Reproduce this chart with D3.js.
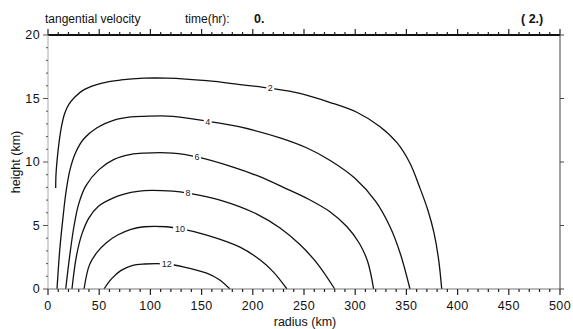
<!DOCTYPE html>
<html>
<head>
<meta charset="utf-8">
<script src="https://cdn.jsdelivr.net/npm/d3@7"></script>
<style>
  body { margin: 0; background: #fff; }
  text { font-family: "Liberation Sans", Arial, sans-serif; }
</style>
</head>
<body>
<script>
// contour levels of tangential velocity
var levels = [2, 4, 6, 8, 10, 12];

// contour points, [radius km, height km]
var c2 = [[7.5,7.95],[7.8,9.0],[9.2,10.4],[10.9,11.6],[13.2,12.8],[16.2,13.8],[20.5,14.55],[26,15.1],[35.2,15.7],[51.8,16.2],[71.3,16.46],[93.8,16.6],[116,16.6],[155,16.4],[187.5,16.1],[217,15.8],[246,15.4],[275,14.7],[302,13.9],[324,12.8],[341,11.5],[353.5,9.9],[363,8.0],[371,6.2],[377,4.4],[381.5,2.3],[384.5,0]];
var c4 = [[8.8,0],[11.5,3.1],[14.6,5.6],[17.5,7.6],[21.5,9.4],[27,10.75],[35.2,11.85],[47.9,12.7],[64.5,13.3],[81,13.55],[93.8,13.6],[122,13.6],[156,13.2],[187.5,12.76],[226.6,11.9],[253,11.1],[276,10.1],[300,8.7],[320,6.9],[334,4.9],[344,2.8],[353.5,0]];
var c6 = [[17.3,0],[21.5,2.8],[25.5,5.0],[30,6.7],[36.8,8.1],[49.8,9.4],[64.5,10.2],[81,10.6],[93.8,10.7],[122,10.7],[145.5,10.4],[180.7,9.6],[205,8.9],[230,8.0],[255,7.05],[275,6.1],[292,4.9],[304,3.6],[312,2.2],[318,0]];
var c8 = [[23.4,0],[27.8,2.6],[33,4.3],[40,5.6],[49,6.5],[64.5,7.2],[81,7.6],[93.8,7.75],[122,7.7],[136.7,7.55],[168,7.0],[204,5.9],[226.6,4.8],[246,3.5],[263,2.0],[280,0]];
var c10 = [[35.2,0],[40.5,1.9],[48,2.9],[57,3.65],[68,4.25],[81,4.7],[93.8,4.9],[116,4.9],[129,4.75],[155,4.25],[187.5,3.3],[207,2.3],[220,1.35],[233.4,0]];
var c12 = [[54.7,0],[62,0.8],[71,1.45],[82,1.85],[93.8,1.97],[116,1.97],[132,1.75],[155,1.25],[167,0.75],[177.7,0]];
var contours = [c2, c4, c6, c8, c10, c12];

// where the level labels sit, [radius, height]
var labelPos = [[217,15.8],[156,13.2],[145.5,10.4],[136.7,7.55],[129,4.75],[116,1.97]];

var xTicks = [0, 50, 100, 150, 200, 250, 300, 350, 400, 450, 500];
var yTicks = [0, 5, 10, 15, 20];

var W = 573, H = 329;
var svg = d3.select("body").append("svg")
    .attr("width", W)
    .attr("height", H);

var x = d3.scaleLinear().domain([0, 500]).range([48, 560]);
var y = d3.scaleLinear().domain([0, 20]).range([289, 35]);

// contours
var line = d3.line()
    .x(function(d){ return x(d[0]); })
    .y(function(d){ return y(d[1]); })
    .curve(d3.curveCatmullRom.alpha(0.5));

svg.selectAll("path.cont")
    .data(contours)
    .enter().append("path")
    .attr("class", "cont")
    .attr("d", line)
    .attr("fill", "none")
    .attr("stroke", "#111")
    .attr("stroke-width", 1.3);

// labels with a gap in the line
var lab = svg.selectAll("g.lab")
    .data(levels)
    .enter().append("g")
    .attr("transform", function(d, i){ return "translate(" + x(labelPos[i][0]) + "," + y(labelPos[i][1]) + ")"; });
lab.append("rect")
    .attr("x", function(d){ return d > 9 ? -7 : -4; })
    .attr("y", -5)
    .attr("width", function(d){ return d > 9 ? 14 : 8; })
    .attr("height", 10)
    .attr("fill", "#fff");
lab.append("text")
    .attr("text-anchor", "middle")
    .attr("dy", "0.35em")
    .attr("font-size", 9)
    .attr("fill", "#222")
    .text(function(d){ return d; });

// bottom axis
svg.append("line")
    .attr("x1", x(0)).attr("x2", x(500))
    .attr("y1", y(0)).attr("y2", y(0))
    .attr("stroke", "#777").attr("stroke-width", 1.2);
svg.selectAll("line.bt")
    .data(d3.range(0, 501, 10))
    .enter().append("line")
    .attr("x1", function(d){ return x(d); }).attr("x2", function(d){ return x(d); })
    .attr("y1", y(0)).attr("y2", function(d){ return y(0) + (d % 50 === 0 ? 6 : 3); })
    .attr("stroke", "#222").attr("stroke-width", 1.2);
svg.selectAll("text.bl")
    .data(xTicks)
    .enter().append("text")
    .attr("x", function(d){ return x(d); })
    .attr("y", 310)
    .attr("text-anchor", "middle")
    .attr("font-size", 12.5)
    .attr("letter-spacing", 0.4)
    .attr("fill", "#111")
    .text(function(d){ return d; });

// top axis
svg.append("line")
    .attr("x1", x(0)).attr("x2", x(500))
    .attr("y1", y(20)).attr("y2", y(20))
    .attr("stroke", "#111").attr("stroke-width", 2);
svg.selectAll("line.tt")
    .data(d3.range(0, 501, 10))
    .enter().append("line")
    .attr("x1", function(d){ return x(d); }).attr("x2", function(d){ return x(d); })
    .attr("y1", y(20)).attr("y2", function(d){ return y(20) - (d % 50 === 0 ? 6 : 3); })
    .attr("stroke", "#222").attr("stroke-width", 1.2);

// left axis
svg.append("line")
    .attr("x1", x(0)).attr("x2", x(0))
    .attr("y1", y(0)).attr("y2", y(20))
    .attr("stroke", "#aaa").attr("stroke-width", 1);
svg.selectAll("line.lt")
    .data(d3.range(0, 20.01, 1))
    .enter().append("line")
    .attr("x1", x(0)).attr("x2", function(d){ return x(0) - (d % 5 === 0 ? 5 : 2); })
    .attr("y1", function(d){ return y(d); }).attr("y2", function(d){ return y(d); })
    .attr("stroke", "#555").attr("stroke-width", 1);
svg.selectAll("text.ll")
    .data(yTicks)
    .enter().append("text")
    .attr("x", 40)
    .attr("y", function(d){ return y(d); })
    .attr("dy", "0.35em")
    .attr("text-anchor", "end")
    .attr("font-size", 12.5)
    .attr("letter-spacing", 0.4)
    .attr("fill", "#111")
    .text(function(d){ return d; });

// right axis
svg.append("line")
    .attr("x1", x(500)).attr("x2", x(500))
    .attr("y1", y(0)).attr("y2", y(20))
    .attr("stroke", "#444").attr("stroke-width", 1);
svg.selectAll("line.rt")
    .data(d3.range(0, 20.01, 5))
    .enter().append("line")
    .attr("x1", x(500)).attr("x2", x(500) + 4)
    .attr("y1", function(d){ return y(d); }).attr("y2", function(d){ return y(d); })
    .attr("stroke", "#444").attr("stroke-width", 1);

// titles
svg.append("text").attr("x", 45).attr("y", 23).attr("font-size", 12).attr("fill", "#111")
    .text("tangential velocity");
svg.append("text").attr("x", 185).attr("y", 23).attr("font-size", 12).attr("fill", "#111")
    .text("time(hr):");
svg.append("text").attr("x", 254).attr("y", 23).attr("font-size", 12.5).attr("font-weight", "bold").attr("fill", "#111")
    .text("0.");
svg.append("text").attr("x", 521).attr("y", 23).attr("font-size", 12.5).attr("font-weight", "bold").attr("fill", "#111")
    .text("( 2.)");

svg.append("text")
    .attr("x", 305).attr("y", 326)
    .attr("text-anchor", "middle")
    .attr("font-size", 12.5).attr("fill", "#111")
    .text("radius (km)");
svg.append("text")
    .attr("transform", "translate(20,162) rotate(-90)")
    .attr("text-anchor", "middle")
    .attr("font-size", 12.5).attr("fill", "#111")
    .text("height (km)");
</script>
</body>
</html>
